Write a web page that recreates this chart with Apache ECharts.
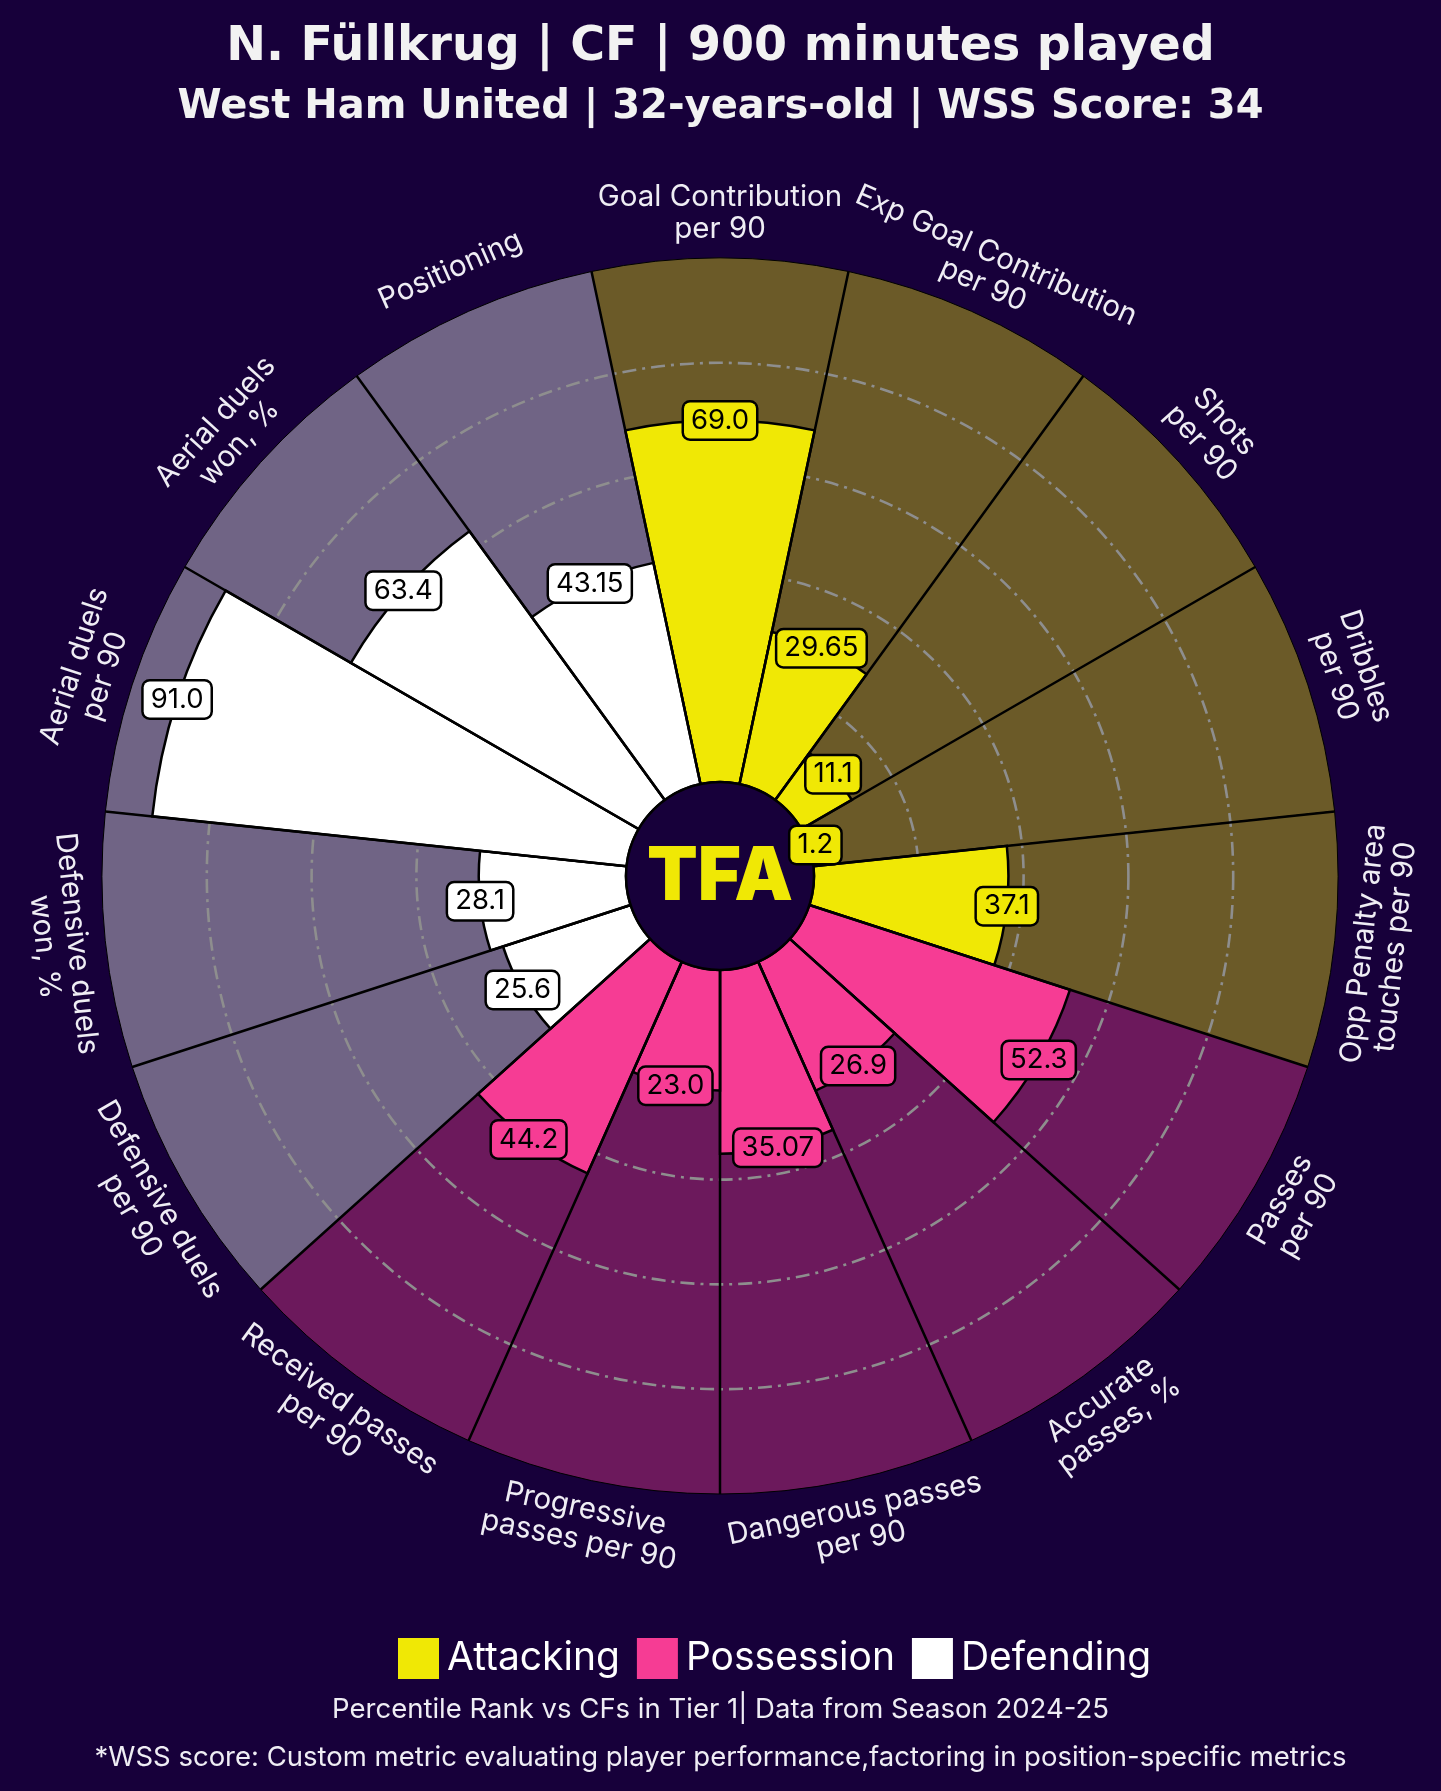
<!DOCTYPE html>
<html><head><meta charset="utf-8">
<script src="https://cdn.jsdelivr.net/npm/echarts@6/dist/echarts.min.js"></script>
<style>html,body{margin:0;padding:0;background:#17003a;} #c{width:1441px;height:1791px;}</style>
</head><body><div id="c"></div>
<script>
// ---- data ----
const categories = [
  'Goal Contribution\nper 90',
  'Exp Goal Contribution\nper 90',
  'Shots\nper 90',
  'Dribbles\nper 90',
  'Opp Penalty area\ntouches per 90',
  'Passes\nper 90',
  'Accurate\npasses, %',
  'Dangerous passes\nper 90',
  'Progressive\npasses per 90',
  'Received passes\nper 90',
  'Defensive duels\nper 90',
  'Defensive duels\nwon, %',
  'Aerial duels\nper 90',
  'Aerial duels\nwon, %',
  'Positioning'
];
const values = [69.0, 29.65, 11.1, 1.2, 37.1, 52.3, 26.9, 35.07, 23.0, 44.2, 25.6, 28.1, 91.0, 63.4, 43.15];
const groupNames = ['Attacking', 'Possession', 'Defending'];
const categoryGroup = [0,0,0,0,0, 1,1,1,1,1, 2,2,2,2,2];
const ringValues = [20, 40, 60, 80];
const maxValue = 100;

// ---- style ----
const BG = '#17003a';
const valueColors = ['#f0e805', '#f63c94', '#ffffff'];
const bgColors = ['#6b5a28', '#6c195c', '#706485'];
const FONT = 'Inter, "Noto Sans", sans-serif';
const TITLE_FONT = '"DejaVu Sans", Inter, sans-serif';
const TEXT = '#efedf4';

function fmt(v) {
  return Math.abs(v * 10 - Math.round(v * 10)) < 1e-6 ? v.toFixed(1) : v.toFixed(2);
}
function centerOf(params) { return [params.coordSys.cx, params.coordSys.cy]; }
function dist(p, c) { return Math.hypot(p[0] - c[0], p[1] - c[1]); }

const chart = echarts.init(document.getElementById('c'), null, {renderer: 'canvas'});

const valueSeries = groupNames.map((g, gi) => ({
  type: 'bar', coordinateSystem: 'polar', name: g,
  data: values.map((v, i) => categoryGroup[i] === gi ? v : null),
  barCategoryGap: '0%', barGap: '-100%',
  itemStyle: {color: valueColors[gi], borderColor: '#000', borderWidth: 2.5},
  z: 3, silent: true
}));

const option = {
  backgroundColor: BG,
  animation: false,
  title: [
    {text: 'N. Füllkrug | CF | 900 minutes played', left: 'center', top: 19,
     textStyle: {color: '#f2f2f2', fontSize: 47.5, fontWeight: 'bold', fontFamily: TITLE_FONT}},
    {text: 'West Ham United | 32-years-old | WSS Score: 34', left: 'center', top: 83,
     textStyle: {color: '#f2f2f2', fontSize: 40, fontWeight: 'bold', fontFamily: TITLE_FONT}},
    {text: 'Percentile Rank vs CFs in Tier 1| Data from Season 2024-25', left: 'center', top: 1691,
     textStyle: {color: TEXT, fontSize: 27.5, fontWeight: 'normal', fontFamily: FONT}},
    {text: '*WSS score: Custom metric evaluating player performance,factoring in position-specific metrics', left: 'center', top: 1739,
     textStyle: {color: TEXT, fontSize: 27.5, fontWeight: 'normal', fontFamily: FONT}}
  ],
  legend: {
    data: groupNames, left: 393, top: 1633, icon: 'rect',
    itemWidth: 41, itemHeight: 41, itemGap: 17,
    itemStyle: {borderWidth: 0},
    textStyle: {color: '#ffffff', fontSize: 39, fontFamily: FONT, padding: [0, 0, 0, 3]},
    selectedMode: false
  },
  polar: {center: [720, 876], radius: [94, 618]},
  angleAxis: {
    type: 'category', data: categories, startAngle: 102, clockwise: true,
    axisLine: {show: false}, axisTick: {show: false}, axisLabel: {show: false},
    splitLine: {show: true, lineStyle: {color: '#000', width: 2.5}},
    z: 4
  },
  radiusAxis: {type: 'value', min: 0, max: maxValue, show: false},
  series: [
    {
      type: 'bar', coordinateSystem: 'polar', name: 'bg',
      data: values.map((v, i) => ({value: maxValue, itemStyle: {color: bgColors[categoryGroup[i]]}})),
      barCategoryGap: '0%', barGap: '-100%',
      itemStyle: {borderColor: '#000', borderWidth: 1},
      z: 1, silent: true
    },
    {
      type: 'custom', coordinateSystem: 'polar', name: 'rings', z: 2, silent: true,
      data: ringValues.map(r => [r, 0]),
      renderItem: function (params, api) {
        const c = centerOf(params);
        const r = dist(api.coord([api.value(0), 0]), c);
        return {type: 'circle', shape: {cx: c[0], cy: c[1], r: r},
          style: {fill: 'none', stroke: '#8e8e8e', lineWidth: 2.6, lineDash: [14, 6, 3, 6]}};
      }
    },
    ...valueSeries,
    {
      type: 'custom', coordinateSystem: 'polar', name: 'center', z: 5, silent: true,
      data: [[0, 0]],
      renderItem: function (params, api) {
        const c = centerOf(params);
        const r0 = dist(api.coord([0, 0]), c);
        return {type: 'group', children: [
          {type: 'circle', shape: {cx: c[0], cy: c[1], r: r0},
           style: {fill: BG, stroke: '#000', lineWidth: 2.5}},
          {type: 'text', x: c[0], y: c[1] + 2,
           style: {text: 'TFA', fill: '#f0e805', fontSize: 74, fontWeight: 900, fontFamily: FONT,
             align: 'center', verticalAlign: 'middle'}}
        ]};
      }
    },
    {
      type: 'custom', coordinateSystem: 'polar', name: 'catLabels', z: 6, silent: true,
      data: categories.map((c, i) => [maxValue, i]),
      renderItem: function (params, api) {
        const c = centerOf(params);
        const i = api.value(1);
        const p = api.coord([maxValue, i]);
        const a = Math.atan2(c[1] - p[1], p[0] - c[0]);
        const R = dist(p, c) + 45;
        let rot = a * 180 / Math.PI - 90;
        while (rot > 180) rot -= 360;
        while (rot <= -180) rot += 360;
        if (rot > 90) rot -= 180;
        if (rot < -90) rot += 180;
        return {type: 'text', x: c[0] + R * Math.cos(a), y: c[1] - R * Math.sin(a),
          rotation: rot * Math.PI / 180,
          style: {text: categories[i], fill: TEXT, fontSize: 29.5, fontFamily: FONT,
            align: 'center', verticalAlign: 'middle', lineHeight: 32}};
      }
    },
    {
      type: 'custom', coordinateSystem: 'polar', name: 'valueLabels', z: 7, silent: true,
      data: values.map((v, i) => [v, i]),
      renderItem: function (params, api) {
        const v = api.value(0), i = api.value(1);
        const p = api.coord([v, i]);
        return {type: 'text', x: p[0], y: p[1],
          style: {text: fmt(v), fill: '#000', fontSize: 27.5, fontFamily: FONT,
            align: 'center', verticalAlign: 'middle',
            backgroundColor: valueColors[categoryGroup[i]], borderColor: '#000', borderWidth: 2.5,
            borderRadius: 6, padding: [5, 7, 3, 7]}};
      }
    }
  ]
};
chart.setOption(option);
</script>
</body></html>
